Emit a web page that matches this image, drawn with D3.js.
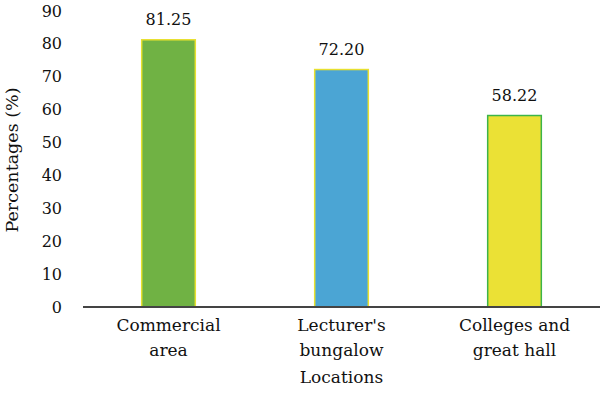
<!DOCTYPE html>
<html>
<head>
<meta charset="utf-8">
<script src="https://cdn.jsdelivr.net/npm/d3@7"></script>
<style>
  body { margin: 0; background: #fff; }
</style>
</head>
<body>
<div id="chart"></div>
<script>
var locations = [['Commercial', 'area'], ['Lecturer\'s', 'bungalow'], ['Colleges and', 'great hall']]
var percentages = [81.25, 72.20, 58.22]
var valueLabels = ['81.25', '72.20', '58.22']
var yTicks = [0, 10, 20, 30, 40, 50, 60, 70, 80, 90]
var fills = ['#70b244', '#4ba5d4', '#ebe135']
var strokes = ['#e8e030', '#e8e030', '#3cb44a']

var width = 600
var height = 393

var svg = d3.select('#chart')
  .append('svg')
  .attr('width', width)
  .attr('height', height)
  .style('font-family', '"DejaVu Serif"')
  .style('fill', '#111')

var x = d3.scaleBand()
  .domain(d3.range(locations.length))
  .range([82, 601])
  .paddingInner(0.69)
  .paddingOuter(0.345)

var y = d3.scaleLinear()
  .domain([0, 90])
  .range([307, 11])

// y tick labels, no axis line
svg.selectAll('.ytick')
  .data(yTicks)
  .enter()
  .append('text')
  .attr('class', 'ytick')
  .attr('x', 62)
  .attr('y', function (d) { return y(d) })
  .attr('dy', '0.35em')
  .attr('text-anchor', 'end')
  .style('font-size', '16px')
  .text(function (d) { return d })

svg.append('text')
  .attr('transform', 'translate(18,' + 160 + ') rotate(-90)')
  .attr('text-anchor', 'middle')
  .style('font-size', '17.5px')
  .text('Percentages (%)')

svg.selectAll('.bar')
  .data(percentages)
  .enter()
  .append('rect')
  .attr('class', 'bar')
  .attr('x', function (d, i) { return x(i) })
  .attr('width', x.bandwidth())
  .attr('y', function (d) { return y(d) })
  .attr('height', function (d) { return y(0) - y(d) })
  .attr('fill', function (d, i) { return fills[i] })
  .attr('stroke', function (d, i) { return strokes[i] })
  .attr('stroke-width', 1.5)

svg.selectAll('.val')
  .data(percentages)
  .enter()
  .append('text')
  .attr('class', 'val')
  .attr('x', function (d, i) { return x(i) + x.bandwidth() / 2 })
  .attr('y', function (d) { return y(d) - 15 })
  .attr('text-anchor', 'middle')
  .style('font-size', '16px')
  .text(function (d, i) { return valueLabels[i] })

// baseline
svg.append('line')
  .attr('x1', 83)
  .attr('x2', 600)
  .attr('y1', y(0))
  .attr('y2', y(0))
  .attr('stroke', '#444')
  .attr('stroke-width', 2)

var cats = svg.selectAll('.cat')
  .data(locations)
  .enter()
  .append('text')
  .attr('class', 'cat')
  .attr('text-anchor', 'middle')
  .style('font-size', '17px')

cats.selectAll('tspan')
  .data(function (d, i) { return d.map(function (s) { return { s: s, i: i } }) })
  .enter()
  .append('tspan')
  .attr('x', function (d) { return x(d.i) + x.bandwidth() / 2 })
  .attr('y', function (d, j) { return 331 + j * 25 })
  .text(function (d) { return d.s })

svg.append('text')
  .attr('x', x(1) + x.bandwidth() / 2)
  .attr('y', 383)
  .attr('text-anchor', 'middle')
  .style('font-size', '17px')
  .text('Locations')
</script>
</body>
</html>
